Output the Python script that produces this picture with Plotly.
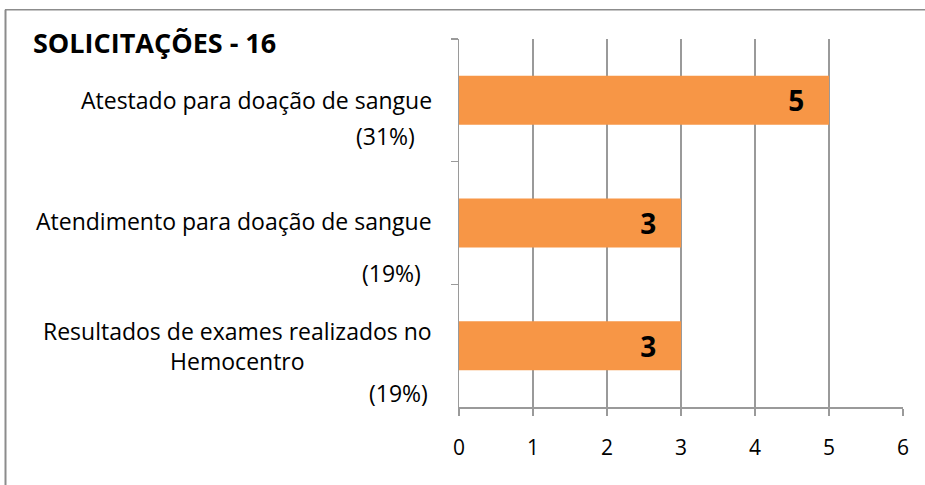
import plotly.graph_objects as go

# ---- data ----
categories = ["Atestado para doação de sangue",
              "Atendimento para doação de sangue",
              "Resultados de exames realizados no<br>Hemocentro"]
values = [5, 3, 3]
percent_labels = ["(31%)", "(19%)", "(19%)"]
title_text = "SOLICITAÇÕES - 16"
x_ticks = [0, 1, 2, 3, 4, 5, 6]

# ---- styles ----
FONT = "Open Sans"
BAR = "#F79646"
GRID = "#9a9a9a"
label_yshift = [0, 2, 0]          # px offset of category label
pct_xshift = [-42, -36, -29]      # px offset of percentage labels
pct_yshift = [-36, -50, -47]

fig = go.Figure()
fig.add_trace(go.Bar(
    y=categories, x=values, orientation="h",
    marker=dict(color=BAR, line=dict(width=0)),
    width=0.4,
    text=[f"<b>{v}</b>\u00a0\u00a0\u00a0" for v in values],
    textposition="inside", insidetextanchor="end",
    textfont=dict(family=FONT, size=28, color="black"),
    hoverinfo="skip",
))

annotations = []
for i, cat in enumerate(categories):
    annotations.append(dict(
        x=0, xref="paper", y=cat, yref="y",
        text=cat, showarrow=False, xanchor="right", yanchor="middle",
        align="center", xshift=-25, yshift=label_yshift[i],
        font=dict(family=FONT, size=23, color="black"),
    ))
    annotations.append(dict(
        x=0, xref="paper", y=cat, yref="y",
        text=percent_labels[i], showarrow=False, xanchor="right", yanchor="middle",
        xshift=pct_xshift[i], yshift=pct_yshift[i],
        font=dict(family=FONT, size=23, color="black"),
    ))

fig.update_layout(
    width=925, height=485,
    margin=dict(l=459, r=22, t=39, b=78),
    paper_bgcolor="white", plot_bgcolor="white",
    showlegend=False,
    title=dict(text=f"<b>{title_text}</b>", x=33/925, xanchor="left",
               xref="container", yref="container", y=1-44/485, yanchor="middle",
               font=dict(family=FONT, size=27, color="black")),
    xaxis=dict(range=[0, 6], tickvals=x_ticks, showgrid=True, gridcolor=GRID,
               gridwidth=1.5, showline=True, linecolor=GRID, linewidth=1.5,
               ticks="outside", ticklen=7, tickwidth=1.5, tickcolor=GRID,
               zeroline=False, ticklabelstandoff=14,
               tickfont=dict(family=FONT, size=21, color="black")),
    yaxis=dict(categoryorder="array", categoryarray=categories,
               autorange="reversed", showticklabels=False,
               showline=True, linecolor=GRID, linewidth=1.5,
               ticks="outside", tickson="boundaries", ticklen=7,
               tickwidth=1.5, tickcolor=GRID, showgrid=False, zeroline=False),
    annotations=annotations,
    shapes=[
        dict(type="line", xref="paper", yref="paper",
             x0=(5 - 459) / 444, x1=(925 - 459) / 444,
             y0=(407 - 9.8) / 368, y1=(407 - 9.8) / 368,
             line=dict(color="#8c8c8c", width=1.5)),
        dict(type="line", xref="paper", yref="paper",
             x0=(5.5 - 459) / 444, x1=(5.5 - 459) / 444,
             y0=(407 - 9.8) / 368, y1=(407 - 490) / 368,
             line=dict(color="#8c8c8c", width=2)),
    ],
)

fig.write_html("out.html",
               config={"displayModeBar": False, "staticPlot": True},
               post_script="document.body.style.margin='0px';document.body.style.overflow='hidden';")
